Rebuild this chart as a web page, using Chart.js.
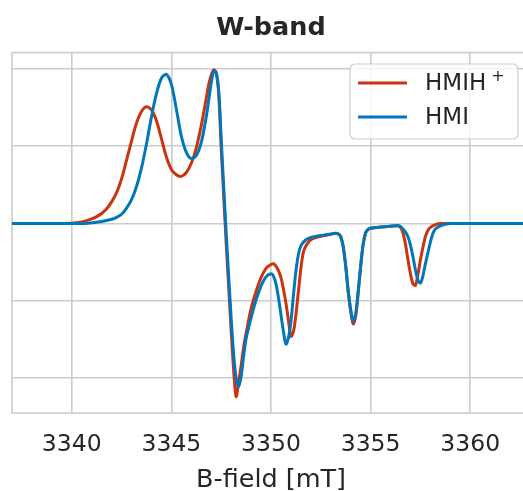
<!DOCTYPE html>
<html>
<head>
<meta charset="utf-8">
<script src="https://cdn.jsdelivr.net/npm/chart.js@4.4.1/dist/chart.umd.min.js"></script>
<style>
  html, body { margin: 0; padding: 0; background: #fff; overflow: hidden; }
  #wrap { width: 530px; height: 491px; }
</style>
</head>
<body>
<div id="wrap"><canvas id="epr" width="530" height="491"></canvas></div>
<script>
// x ticks and the (unlabelled) y grid levels
const fieldTicks = [3340, 3345, 3350, 3355, 3360];
const gridLevels = [-2, -1, 0, 1, 2];
const seriesNames = ['HMIH', 'HMI'];

// HMIH+ spectrum
const fieldHMIH = [3337, 3340, 3340.5, 3341, 3341.25, 3341.5, 3341.75, 3342, 3342.25, 3342.5,
  3342.75, 3343, 3343.25, 3343.5, 3343.75, 3344, 3344.25, 3344.5, 3344.75, 3345,
  3345.25, 3345.5, 3345.75, 3346, 3346.25, 3346.5, 3346.75, 3346.875, 3347, 3347.125,
  3347.25, 3347.375, 3347.5, 3347.625, 3347.75, 3347.875, 3348, 3348.125, 3348.25, 3348.375,
  3348.5, 3348.625, 3348.75, 3349, 3349.25, 3349.5, 3349.75, 3350, 3350.125, 3350.25,
  3350.375, 3350.5, 3350.625, 3350.75, 3350.875, 3351, 3351.125, 3351.25, 3351.375, 3351.5,
  3351.625, 3351.75, 3352, 3352.5, 3353, 3353.25, 3353.4, 3353.5, 3353.625, 3353.75,
  3353.875, 3354, 3354.125, 3354.25, 3354.375, 3354.5, 3354.625, 3354.75, 3354.875, 3355,
  3355.5, 3356, 3356.375, 3356.5, 3356.625, 3356.75, 3356.875, 3357, 3357.125, 3357.25,
  3357.375, 3357.5, 3357.625, 3357.75, 3357.875, 3358, 3358.25, 3358.5, 3363];
const signalHMIH = [0, 0.005, 0.02, 0.06, 0.09, 0.13, 0.19, 0.28, 0.40, 0.58,
  0.82, 1.07, 1.30, 1.45, 1.51, 1.47, 1.33, 1.10, 0.86, 0.70,
  0.63, 0.61, 0.66, 0.78, 0.98, 1.27, 1.62, 1.80, 1.92, 1.99,
  1.95, 1.68, 0.98, 0.36, -0.25, -0.82, -1.38, -1.90, -2.24, -2.05,
  -1.84, -1.60, -1.42, -1.10, -0.88, -0.70, -0.58, -0.53, -0.52, -0.55,
  -0.61, -0.70, -0.85, -1.03, -1.25, -1.46, -1.40, -1.18, -0.88, -0.58,
  -0.37, -0.29, -0.21, -0.165, -0.14, -0.125, -0.14, -0.17, -0.30, -0.55,
  -0.88, -1.14, -1.30, -1.20, -0.90, -0.56, -0.27, -0.12, -0.075, -0.06,
  -0.045, -0.035, -0.03, -0.05, -0.12, -0.27, -0.47, -0.65, -0.78, -0.80,
  -0.66, -0.47, -0.31, -0.17, -0.09, -0.05, -0.015, 0, 0];

// HMI spectrum
const fieldHMI = [3337, 3340.5, 3341, 3341.5, 3342, 3342.25, 3342.5, 3342.75, 3343, 3343.25,
  3343.5, 3343.75, 3344, 3344.25, 3344.5, 3344.75, 3345, 3345.25, 3345.5, 3345.75,
  3346, 3346.25, 3346.5, 3346.75, 3346.875, 3347, 3347.125, 3347.25, 3347.375, 3347.5,
  3347.625, 3347.75, 3347.875, 3348, 3348.125, 3348.25, 3348.375, 3348.5, 3348.625, 3348.75,
  3349, 3349.25, 3349.5, 3349.75, 3350, 3350.125, 3350.25, 3350.375, 3350.5, 3350.625,
  3350.75, 3350.875, 3351, 3351.125, 3351.25, 3351.375, 3351.5, 3351.75, 3352, 3352.5,
  3353, 3353.25, 3353.4, 3353.5, 3353.625, 3353.75, 3353.875, 3354, 3354.125, 3354.25,
  3354.375, 3354.5, 3354.625, 3354.75, 3354.875, 3355, 3355.5, 3356, 3356.375, 3356.5,
  3356.625, 3356.75, 3356.875, 3357, 3357.125, 3357.25, 3357.375, 3357.5, 3357.625, 3357.75,
  3357.875, 3358, 3358.125, 3358.25, 3358.5, 3358.75, 3359, 3363];
const signalHMI = [0, 0, 0.01, 0.025, 0.055, 0.08, 0.12, 0.20, 0.31, 0.48,
  0.72, 1.03, 1.38, 1.68, 1.88, 1.93, 1.80, 1.48, 1.13, 0.92,
  0.84, 0.88, 1.05, 1.38, 1.60, 1.82, 1.97, 1.95, 1.72, 1.10,
  0.48, -0.12, -0.68, -1.22, -1.70, -2.00, -2.11, -1.98, -1.72, -1.49,
  -1.22, -0.99, -0.81, -0.69, -0.65, -0.68, -0.78, -0.96, -1.18, -1.40,
  -1.56, -1.48, -1.27, -0.93, -0.62, -0.40, -0.29, -0.21, -0.18, -0.155,
  -0.135, -0.125, -0.14, -0.17, -0.30, -0.55, -0.87, -1.11, -1.26, -1.17,
  -0.88, -0.55, -0.27, -0.12, -0.075, -0.06, -0.045, -0.035, -0.03, -0.04,
  -0.07, -0.11, -0.17, -0.28, -0.43, -0.60, -0.73, -0.77, -0.68, -0.52,
  -0.38, -0.24, -0.13, -0.07, -0.03, -0.01, 0, 0];

const textColor = '#262626';
const gridColor = '#cccccc';

function points(xs, ys) {
  return xs.map((x, i) => ({ x: x, y: ys[i] }));
}

// frame around the plot area (the right side falls outside the window)
const framePlugin = {
  id: 'frame',
  beforeDatasetsDraw(chart) {
    const a = chart.chartArea, ctx = chart.ctx;
    ctx.save();
    ctx.strokeStyle = gridColor;
    ctx.lineWidth = 1.6;
    ctx.strokeRect(a.left, a.top, a.right - a.left, a.bottom - a.top);
    ctx.restore();
  }
};

// matplotlib style legend in the upper right corner
const legendPlugin = {
  id: 'boxLegend',
  afterDatasetsDraw(chart) {
    const ctx = chart.ctx;
    const x0 = 350, y0 = 64, w = 168, h = 75;
    ctx.save();
    ctx.beginPath();
    ctx.roundRect(x0, y0, w, h, 5);
    ctx.fillStyle = 'rgba(255,255,255,0.8)';
    ctx.fill();
    ctx.strokeStyle = gridColor;
    ctx.lineWidth = 1.2;
    ctx.stroke();
    ctx.textBaseline = 'middle';
    chart.data.datasets.forEach((ds, i) => {
      const y = 83 + i * 34;
      ctx.strokeStyle = ds.borderColor;
      ctx.lineWidth = 3;
      ctx.beginPath();
      ctx.moveTo(358, y);
      ctx.lineTo(407, y);
      ctx.stroke();
      ctx.fillStyle = textColor;
      ctx.font = '23px "DejaVu Sans"';
      ctx.fillText(seriesNames[i], 425, y + 1);
      if (i === 0) {
        const wBase = ctx.measureText(seriesNames[i]).width;
        ctx.font = '16px "DejaVu Sans"';
        ctx.fillText('+', 425 + wBase + 5, y - 6);
      }
    });
    ctx.restore();
  }
};

new Chart(document.getElementById('epr'), {
  type: 'line',
  data: {
    datasets: [
      { label: 'HMIH+', data: points(fieldHMIH, signalHMIH), borderColor: '#cc3311',
        borderWidth: 3, pointRadius: 0, tension: 0.3, order: 1 },
      { label: 'HMI', data: points(fieldHMI, signalHMI), borderColor: '#0077bb',
        borderWidth: 3, pointRadius: 0, tension: 0.3, order: 0 }
    ]
  },
  options: {
    responsive: false,
    animation: false,
    devicePixelRatio: 1,
    layout: { padding: { left: 12, right: 0, top: 0, bottom: 0 } },
    plugins: {
      legend: { display: false },
      tooltip: { enabled: false },
      title: {
        display: true,
        text: 'W-band',
        color: textColor,
        font: { family: 'DejaVu Sans', size: 25.5, weight: 'bold' },
        padding: { top: 13, bottom: 9 }
      }
    },
    scales: {
      x: {
        type: 'linear',
        min: 3337,
        max: 3363,
        afterBuildTicks: s => { s.ticks = fieldTicks.map(v => ({ value: v })); },
        afterFit: s => { s.height = 78; },
        grid: { color: gridColor, lineWidth: 1.6, drawTicks: false },
        border: { display: false },
        ticks: {
          color: textColor, font: { family: 'DejaVu Sans', size: 23.5 }, padding: 18, maxRotation: 0,
          callback: v => String(v)
        },
        title: {
          display: true, text: 'B-field [mT]', color: textColor,
          font: { family: 'DejaVu Sans', size: 25.5, lineHeight: 0.85 },
          padding: { top: 0, bottom: 0 }
        }
      },
      y: {
        min: -2.452,
        max: 2.212,
        afterBuildTicks: s => { s.ticks = gridLevels.map(v => ({ value: v })); },
        afterFit: s => { s.width = 0; },
        grid: { color: gridColor, lineWidth: 1.6, drawTicks: false },
        border: { display: false },
        ticks: { display: false }
      }
    }
  },
  plugins: [framePlugin, legendPlugin]
});
</script>
</body>
</html>
